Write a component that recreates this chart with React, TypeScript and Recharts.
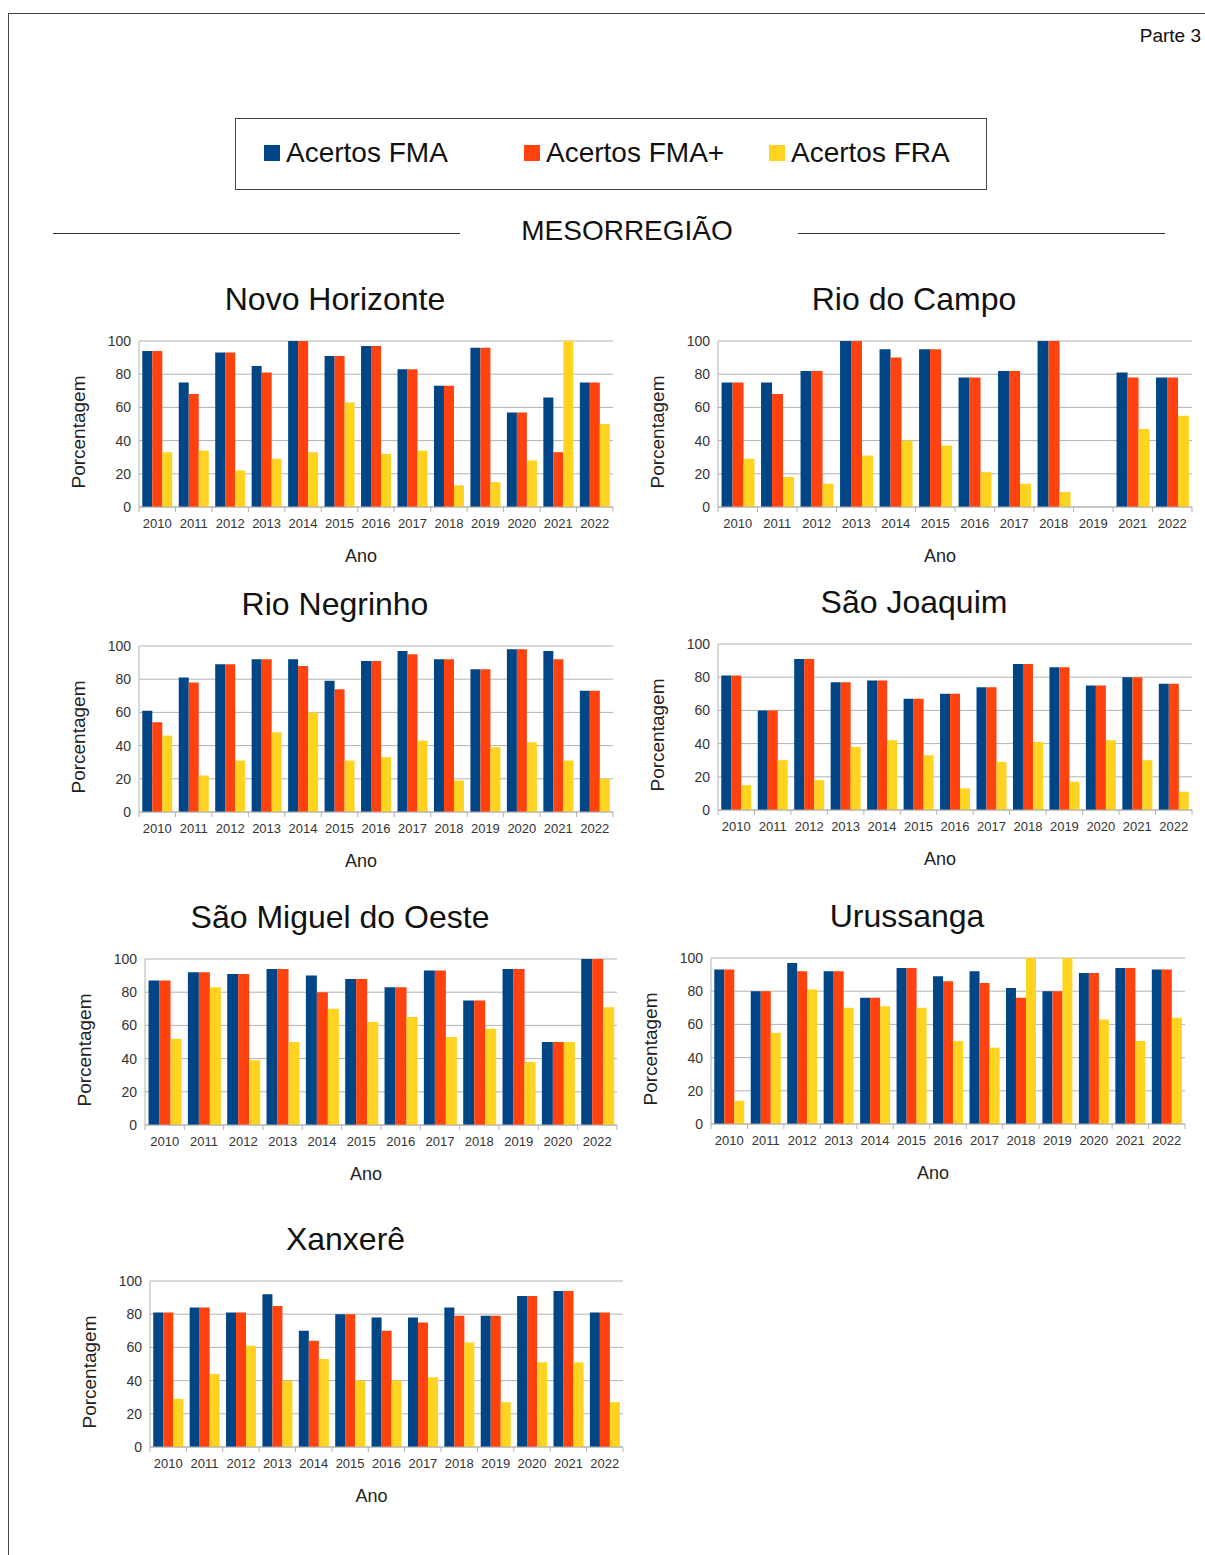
import React from "react";
import { BarChart, Bar, XAxis, YAxis, CartesianGrid } from "recharts";

const YEARS = ["2010", "2011", "2012", "2013", "2014", "2015", "2016", "2017", "2018", "2019", "2020", "2021", "2022"];
const YEARS_RIO_CAMPO = ["2010", "2011", "2012", "2013", "2014", "2015", "2016", "2017", "2018", "2019", "2021", "2022"];
const YEARS_SAO_MIGUEL = ["2010", "2011", "2012", "2013", "2014", "2015", "2016", "2017", "2018", "2019", "2020", "2022"];

const Y_TICKS = [0, 20, 40, 60, 80, 100];

// Novo Horizonte
const NH_FMA = [94, 75, 93, 85, 100, 91, 97, 83, 73, 96, 57, 66, 75];
const NH_FMA_PLUS = [94, 68, 93, 81, 100, 91, 97, 83, 73, 96, 57, 33, 75];
const NH_FRA = [33, 34, 22, 29, 33, 63, 32, 34, 13, 15, 28, 100, 50];

// Rio do Campo (2019 sem dados)
const RC_FMA = [75, 75, 82, 100, 95, 95, 78, 82, 100, null, 81, 78];
const RC_FMA_PLUS = [75, 68, 82, 100, 90, 95, 78, 82, 100, null, 78, 78];
const RC_FRA = [29, 18, 14, 31, 40, 37, 21, 14, 9, null, 47, 55];

// Rio Negrinho
const RN_FMA = [61, 81, 89, 92, 92, 79, 91, 97, 92, 86, 98, 97, 73];
const RN_FMA_PLUS = [54, 78, 89, 92, 88, 74, 91, 95, 92, 86, 98, 92, 73];
const RN_FRA = [46, 22, 31, 48, 60, 31, 33, 43, 19, 39, 42, 31, 20];

// São Joaquim
const SJ_FMA = [81, 60, 91, 77, 78, 67, 70, 74, 88, 86, 75, 80, 76];
const SJ_FMA_PLUS = [81, 60, 91, 77, 78, 67, 70, 74, 88, 86, 75, 80, 76];
const SJ_FRA = [15, 30, 18, 38, 42, 33, 13, 29, 41, 17, 42, 30, 11];

// São Miguel do Oeste
const SM_FMA = [87, 92, 91, 94, 90, 88, 83, 93, 75, 94, 50, 100];
const SM_FMA_PLUS = [87, 92, 91, 94, 80, 88, 83, 93, 75, 94, 50, 100];
const SM_FRA = [52, 83, 39, 50, 70, 62, 65, 53, 58, 38, 50, 71];

// Urussanga
const UR_FMA = [93, 80, 97, 92, 76, 94, 89, 92, 82, 80, 91, 94, 93];
const UR_FMA_PLUS = [93, 80, 92, 92, 76, 94, 86, 85, 76, 80, 91, 94, 93];
const UR_FRA = [14, 55, 81, 70, 71, 70, 50, 46, 100, 100, 63, 50, 64];

// Xanxerê
const XX_FMA = [81, 84, 81, 92, 70, 80, 78, 78, 84, 79, 91, 94, 81];
const XX_FMA_PLUS = [81, 84, 81, 85, 64, 80, 70, 75, 79, 79, 91, 94, 81];
const XX_FRA = [29, 44, 61, 40, 53, 40, 40, 42, 63, 27, 51, 51, 27];

const C_FMA = "#004586";
const C_FMA_PLUS = "#ff420e";
const C_FRA = "#ffd320";
const GRID = "#b3b3b3";
const FONT = '"Liberation Sans", Arial, sans-serif';

type Row = { year: string; fma: number | null; fmaPlus: number | null; fra: number | null };

const buildRows = (years: string[], fma: (number | null)[], fmaPlus: (number | null)[], fra: (number | null)[]): Row[] =>
  years.map((year, i) => ({ year, fma: fma[i], fmaPlus: fmaPlus[i], fra: fra[i] }));

const CHARTS = [
  { title: "Novo Horizonte", rows: buildRows(YEARS, NH_FMA, NH_FMA_PLUS, NH_FRA), left: 139, top: 341, width: 474 },
  { title: "Rio do Campo", rows: buildRows(YEARS_RIO_CAMPO, RC_FMA, RC_FMA_PLUS, RC_FRA), left: 718, top: 341, width: 474 },
  { title: "Rio Negrinho", rows: buildRows(YEARS, RN_FMA, RN_FMA_PLUS, RN_FRA), left: 139, top: 646, width: 474 },
  { title: "São Joaquim", rows: buildRows(YEARS, SJ_FMA, SJ_FMA_PLUS, SJ_FRA), left: 718, top: 644, width: 474 },
  { title: "São Miguel do Oeste", rows: buildRows(YEARS_SAO_MIGUEL, SM_FMA, SM_FMA_PLUS, SM_FRA), left: 145, top: 959, width: 472 },
  { title: "Urussanga", rows: buildRows(YEARS, UR_FMA, UR_FMA_PLUS, UR_FRA), left: 711, top: 958, width: 474 },
  { title: "Xanxerê", rows: buildRows(YEARS, XX_FMA, XX_FMA_PLUS, XX_FRA), left: 150, top: 1281, width: 473 },
];

const PLOT_H = 166;
const AXIS_W = 60;

function YearChart({ title, rows, left, top, width }: { title: string; rows: Row[]; left: number; top: number; width: number }) {
  const band = width / rows.length;
  const center = left + width / 2;

  const renderTick = (props: any) => {
    const { x, y, payload, index } = props;
    return (
      <g>
        <line x1={x - band / 2} x2={x - band / 2} y1={y} y2={y + 5} stroke={GRID} />
        {index === rows.length - 1 && <line x1={x + band / 2} x2={x + band / 2} y1={y} y2={y + 5} stroke={GRID} />}
        <text x={x} y={y} dy={21} textAnchor="middle" fill="#333" fontSize={13}>
          {payload.value}
        </text>
      </g>
    );
  };

  return (
    <>
      <div style={{ position: "absolute", left: center - 41 - 250, top: top - 62, width: 500, textAlign: "center", fontSize: 32, lineHeight: "40px", color: "#111" }}>
        {title}
      </div>
      <div
        style={{
          position: "absolute",
          left: left - 60 - 100,
          top: top + 91 - 12,
          width: 200,
          height: 24,
          lineHeight: "24px",
          textAlign: "center",
          fontSize: 19,
          color: "#222",
          transform: "rotate(-90deg)",
        }}
      >
        Porcentagem
      </div>
      <div style={{ position: "absolute", left: center - 15 - 50, top: top + 215 - 12, width: 100, textAlign: "center", fontSize: 18, lineHeight: "24px", color: "#222" }}>
        Ano
      </div>
      <div style={{ position: "absolute", left: left - AXIS_W, top: top - 10 }}>
        <BarChart
          width={width + AXIS_W + 10}
          height={PLOT_H + 10 + 40}
          data={rows}
          margin={{ top: 10, right: 10, left: 0, bottom: 0 }}
          barCategoryGap="9%"
          barGap={0}
        >
          <CartesianGrid vertical={false} stroke={GRID} />
          <XAxis
            dataKey="year"
            interval={0}
            height={40}
            tickSize={0}
            tickMargin={0}
            tick={renderTick}
            axisLine={{ stroke: GRID }}
          />
          <YAxis
            domain={[0, 100]}
            ticks={Y_TICKS}
            width={AXIS_W}
            tickLine={false}
            axisLine={{ stroke: GRID }}
            tick={{ fill: "#333", fontSize: 14 }}
          />
          <Bar dataKey="fma" fill={C_FMA} isAnimationActive={false} />
          <Bar dataKey="fmaPlus" fill={C_FMA_PLUS} isAnimationActive={false} />
          <Bar dataKey="fra" fill={C_FRA} isAnimationActive={false} />
        </BarChart>
      </div>
    </>
  );
}

const LEGEND = [
  { label: "Acertos FMA", color: C_FMA, x: 264 },
  { label: "Acertos FMA+", color: C_FMA_PLUS, x: 524 },
  { label: "Acertos FRA", color: C_FRA, x: 769 },
];

export default function App() {
  return (
    <div style={{ position: "absolute", left: 0, top: 0, width: 1205, height: 1555, background: "#fff", fontFamily: FONT, overflow: "hidden" }}>
      <div style={{ position: "absolute", left: 8, top: 13, width: 1197, height: 1, background: "#444" }} />
      <div style={{ position: "absolute", left: 8, top: 13, width: 1, height: 1542, background: "#444" }} />
      <div style={{ position: "absolute", left: 1100, top: 24, width: 101, textAlign: "right", fontSize: 19, lineHeight: "24px", color: "#111" }}>Parte 3</div>

      <div style={{ position: "absolute", left: 235, top: 118, width: 750, height: 70, border: "1px solid #444" }} />
      {LEGEND.map((item) => (
        <React.Fragment key={item.label}>
          <div style={{ position: "absolute", left: item.x, top: 145, width: 16, height: 16, background: item.color }} />
          <div style={{ position: "absolute", left: item.x + 22, top: 136, fontSize: 28, lineHeight: "34px", color: "#111", whiteSpace: "nowrap" }}>{item.label}</div>
        </React.Fragment>
      ))}

      <div style={{ position: "absolute", left: 53, top: 233, width: 407, height: 1, background: "#333" }} />
      <div style={{ position: "absolute", left: 798, top: 233, width: 367, height: 1, background: "#333" }} />
      <div style={{ position: "absolute", left: 477, top: 214, width: 300, textAlign: "center", fontSize: 28, lineHeight: "34px", color: "#111" }}>MESORREGIÃO</div>

      {CHARTS.map((c) => (
        <YearChart key={c.title} {...c} />
      ))}
    </div>
  );
}
